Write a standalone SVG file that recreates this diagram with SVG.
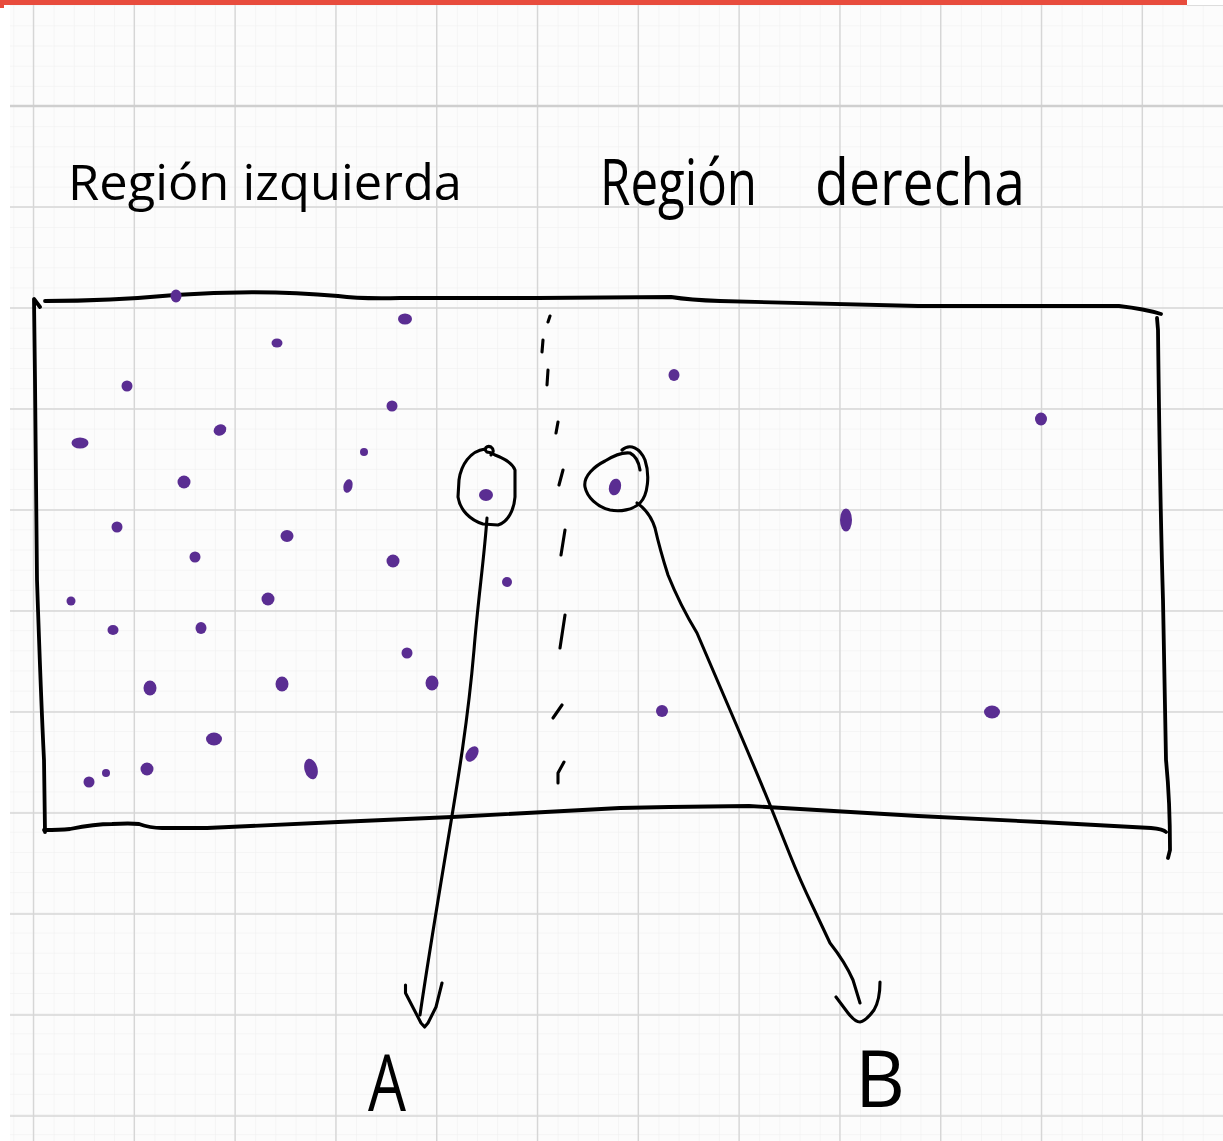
<svg xmlns="http://www.w3.org/2000/svg" width="1223" height="1141" viewBox="0 0 1223 1141">
<defs>
<pattern id="minor" patternUnits="userSpaceOnUse" x="13.3" y="5.2" width="20.16" height="20.16">
<path d="M0,0 V20.16 M0,0 H20.16" stroke="#eeeeee" stroke-width="1" fill="none"/>
</pattern>
</defs>
<style>
.major{stroke:#d6d6d6;stroke-width:1.4;fill:none}
.ink{fill:none;stroke:#000;stroke-width:3.8;stroke-linecap:round;stroke-linejoin:round}
.thin{fill:none;stroke:#000;stroke-width:3.1;stroke-linecap:round;stroke-linejoin:round}
.dot{fill:#5a2d92}
.hand{font-family:"Open Sans","Liberation Sans",sans-serif;font-weight:400;fill:#000}
</style>
<rect width="1223" height="1141" fill="#ffffff"/>
<g id="grid">
<rect x="10" y="5" width="1213" height="1136" fill="#fcfcfc"/>
<rect x="10" y="5" width="1213" height="1136" fill="url(#minor)"/>
<path class="major" d="M33.5,5V1141M134.3,5V1141M235.1,5V1141M335.9,5V1141M436.7,5V1141M537.5,5V1141M638.3,5V1141M739.1,5V1141M839.9,5V1141M940.7,5V1141M1041.5,5V1141M1142.3,5V1141"/>
<path class="major" d="M10,207H1223M10,308H1223M10,409H1223M10,510H1223M10,611H1223M10,712H1223M10,813H1223M10,914H1223M10,1015H1223M10,1116H1223"/>
<path d="M10,106H1223" stroke="#cfcfcf" stroke-width="2.4"/>
</g>
<g id="topbar">
<rect x="0" y="0" width="1187" height="5" fill="#e84c3d"/>
<rect x="0" y="5" width="4" height="3" fill="#e84c3d"/>
<path d="M1187,5.5H1223" stroke="#dddddd" stroke-width="1"/>
</g>
<g id="labels">
<text class="hand" x="68" y="200" font-size="50" textLength="394" lengthAdjust="spacingAndGlyphs">Región izquierda</text>
<text class="hand" y="205" font-size="64"><tspan x="600" textLength="157" lengthAdjust="spacingAndGlyphs">Región</tspan> <tspan x="815" textLength="210" lengthAdjust="spacingAndGlyphs">derecha</tspan></text>
</g>
<g id="box">
<path class="ink" d="M45,301 Q110,301 175,295 Q260,289 338,296 Q360,299 400,298 L537,298 L671,297 Q690,300 720,301 L918,306 L1119,306 Q1145,309 1161,314"/>
<path class="ink" d="M40,307 L34,299 L35,380 L36,480 L37,580 Q41,700 44,760 L45,832"/>
<path class="ink" d="M44,830 Q60,830 70,829 Q95,824 112,824 Q130,823 139,824 Q150,828 162,828 L207,828 L338,822 L452,817 L620,808 L669,807 L749,806 L918,816 L1040,822 L1151,828 Q1163,829 1166,832"/>
<path class="ink" d="M1157,318 L1158,330 Q1160,500 1163,600 L1166,760 Q1170,800 1170,850 L1168,858"/>
</g>
<g id="divider">
<path class="thin" d="M550,316 L548,322 M543,340 L542,352 M548,370 L547,385 M558,422 L556,433 M563,470 L559,485 M565,530 L561,555 M565,615 L560,648 M562,705 L553,718 M564,762 L558,773 L558,783"/>
</g>
<g id="dots">
<ellipse class="dot" cx="176" cy="296" rx="5.5" ry="6.5"/>
<ellipse class="dot" cx="405" cy="319" rx="7" ry="5.5"/>
<ellipse class="dot" cx="277" cy="343" rx="5.5" ry="4.5"/>
<ellipse class="dot" cx="127" cy="386" rx="5.5" ry="5.5"/>
<ellipse class="dot" cx="392" cy="406" rx="5.5" ry="5.5"/>
<ellipse class="dot" cx="220" cy="430" rx="6.5" ry="5.5" transform="rotate(-25 220 430)"/>
<ellipse class="dot" cx="80" cy="443" rx="8.5" ry="5.5"/>
<ellipse class="dot" cx="364" cy="452" rx="4" ry="4"/>
<ellipse class="dot" cx="184" cy="482" rx="6.5" ry="6.5"/>
<ellipse class="dot" cx="348" cy="486" rx="4.5" ry="7" transform="rotate(15 348 486)"/>
<ellipse class="dot" cx="117" cy="527" rx="5.5" ry="5.5"/>
<ellipse class="dot" cx="287" cy="536" rx="6.5" ry="6"/>
<ellipse class="dot" cx="195" cy="557" rx="5.5" ry="5.5"/>
<ellipse class="dot" cx="393" cy="561" rx="6.5" ry="6.5"/>
<ellipse class="dot" cx="507" cy="582" rx="5" ry="5"/>
<ellipse class="dot" cx="71" cy="601" rx="4.5" ry="4.5"/>
<ellipse class="dot" cx="268" cy="599" rx="6.5" ry="6.5"/>
<ellipse class="dot" cx="113" cy="630" rx="5.5" ry="5"/>
<ellipse class="dot" cx="201" cy="628" rx="5.5" ry="6"/>
<ellipse class="dot" cx="407" cy="653" rx="5.5" ry="5.5"/>
<ellipse class="dot" cx="150" cy="688" rx="6.5" ry="7.5"/>
<ellipse class="dot" cx="282" cy="684" rx="6.5" ry="7.5"/>
<ellipse class="dot" cx="432" cy="683" rx="6.5" ry="7.5"/>
<ellipse class="dot" cx="214" cy="739" rx="8" ry="6.5"/>
<ellipse class="dot" cx="472" cy="754" rx="5.5" ry="8.5" transform="rotate(35 472 754)"/>
<ellipse class="dot" cx="89" cy="782" rx="5.5" ry="5.5"/>
<ellipse class="dot" cx="106" cy="773" rx="4" ry="4"/>
<ellipse class="dot" cx="147" cy="769" rx="6.5" ry="6.5"/>
<ellipse class="dot" cx="311" cy="769" rx="6.5" ry="10.5" transform="rotate(-15 311 769)"/>
<ellipse class="dot" cx="674" cy="375" rx="5.5" ry="6"/>
<ellipse class="dot" cx="1041" cy="419" rx="6" ry="6.5"/>
<ellipse class="dot" cx="846" cy="520" rx="6" ry="11.5"/>
<ellipse class="dot" cx="662" cy="711" rx="6" ry="6"/>
<ellipse class="dot" cx="992" cy="712" rx="8" ry="6.5"/>
</g>
<g id="node-left">
<path class="thin" d="M485,449 C470,451 461,465 459,480 L458,497 C460,510 470,520 483,524 L498,525 C508,522 514,510 515,497 L515,470 C512,462 503,458 495,455 C492,453 490,452 487,452 M487,452 C483,449 487,445 491,447 C494,449 494,453 491,455"/>
<ellipse class="dot" cx="486" cy="495" rx="7" ry="6"/>
</g>
<g id="node-right">
<path class="thin" d="M622,450 C630,443 640,448 645,460 C650,475 648,495 640,503 C633,510 620,512 610,510 C597,507 587,497 585,487 C583,476 595,466 605,461 C613,456 622,452 630,453 C636,456 639,463 640,470"/>
<ellipse class="dot" cx="615" cy="487" rx="6" ry="8.5" transform="rotate(15 615 487)"/>
</g>
<g id="connectors">
<g id="arrow-A">
<path class="thin" d="M487,518 C484,560 478,600 474,650 C468,720 458,780 448,840 C438,900 428,960 420,1015"/>
<path class="thin" d="M405.5,985 L405.5,993 L421,1023 L424.6,1027 L428,1023 L436,1007 L442,983"/>
</g>
<g id="arrow-B">
<path class="thin" d="M637,503 Q650,512 655,528 Q660,550 668,575 Q680,605 697,633 L730,710 Q760,780 772,810 L790,855 Q800,880 813,907 Q823,928 830,943 Q845,962 853,980 L860,1003"/>
<path class="thin" d="M836,997 L848,1013 Q855,1022 860,1022 Q866,1021 874,1010 Q880,1000 880,982"/>
</g>
</g>
<g id="node-A">
<text class="hand" x="368" y="1111" font-size="78" textLength="38" lengthAdjust="spacingAndGlyphs">A</text>
</g>
<g id="node-B">
<text class="hand" x="855" y="1107" font-size="78" textLength="50" lengthAdjust="spacingAndGlyphs">B</text>
</g>
</svg>
